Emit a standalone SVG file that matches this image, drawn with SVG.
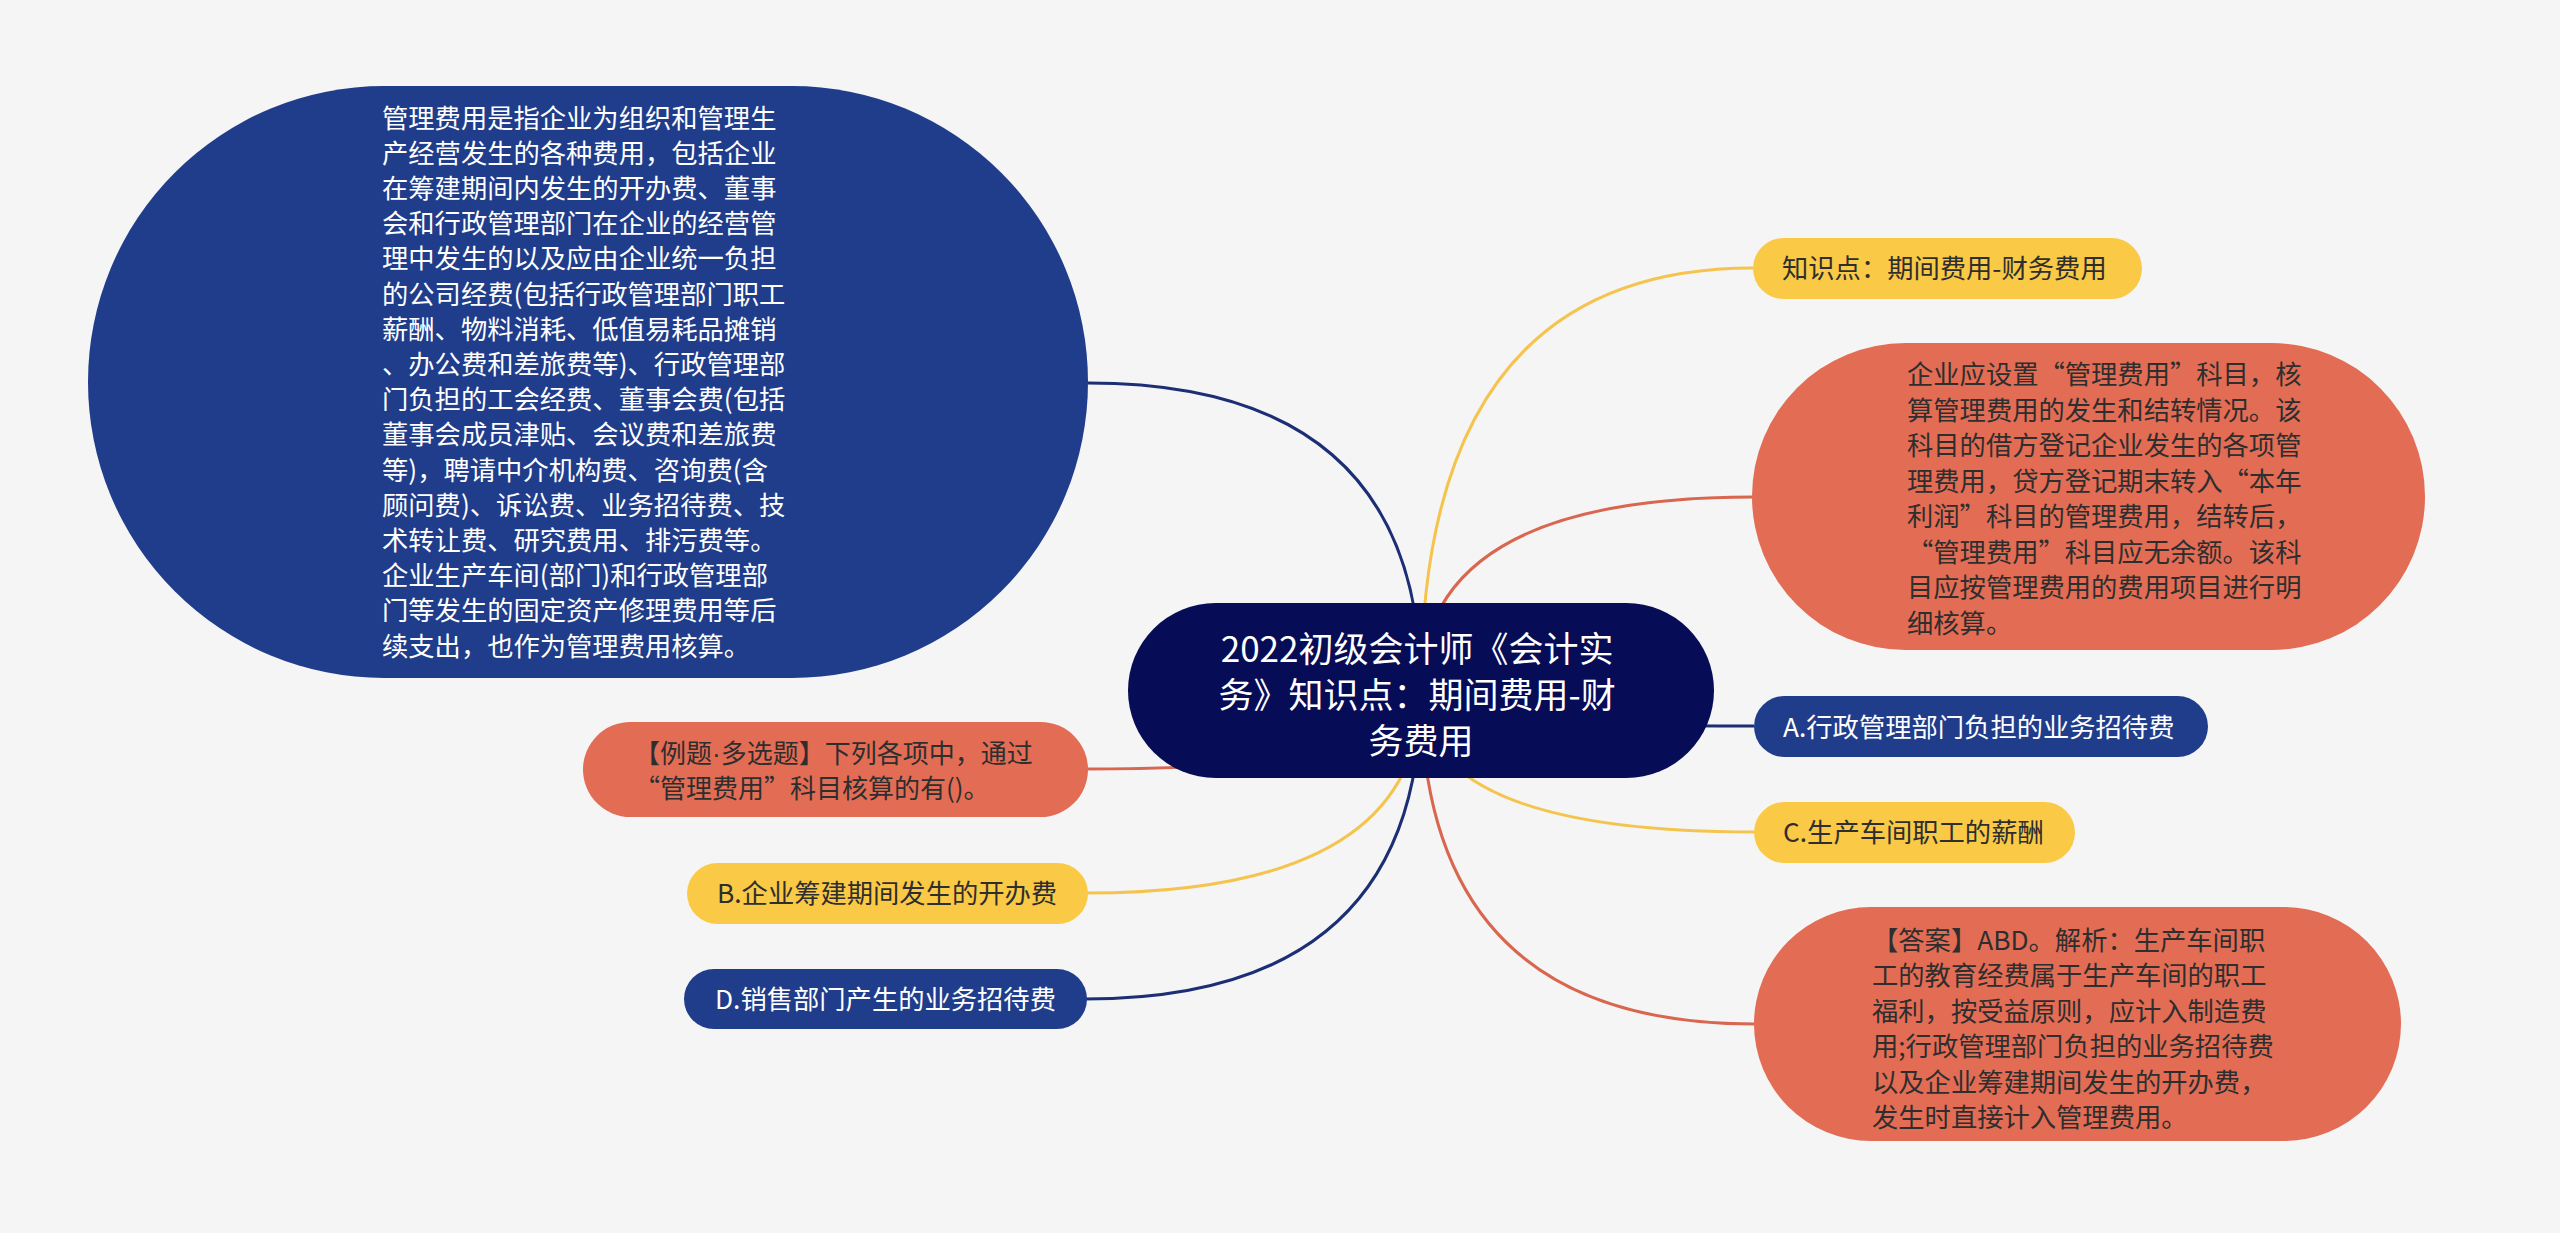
<svg xmlns="http://www.w3.org/2000/svg" width="2560" height="1233" viewBox="0 0 2560 1233">
<style>
  text { font-family: "Noto Sans CJK SC", "Liberation Sans", sans-serif; font-size: 26.3px; }
  .light { fill: #ffffff; }
  .dark { fill: #2e2e2e; }
  .navy { fill: #203d8b; }
  .yellow { fill: #fac946; }
  .coral { fill: #e36c55; }
  .root { fill: #070c57; }
  .ln { fill: none; stroke-width: 3; }
  .ln-navy { stroke: #1c2f74; }
  .ln-yellow { stroke: #f5c44e; }
  .ln-coral { stroke: #d9664f; }
  .latin { font-family: "Liberation Sans", sans-serif; }
</style>
<rect x="0" y="0" width="2560" height="1233" fill="#f5f5f5"/>

<g id="connectors">
  <path class="ln ln-navy" d="M1421,690 Q1421,383 1088,383"/>
  <path class="ln ln-coral" d="M1421,690 Q1421,769 1087,769"/>
  <path class="ln ln-yellow" d="M1421,690 Q1421,893 1087,893"/>
  <path class="ln ln-navy" d="M1421,690 Q1421,999 1085,999"/>
  <path class="ln ln-yellow" d="M1421,690 Q1421,268 1753,268"/>
  <path class="ln ln-coral" d="M1421,690 Q1421,497 1753,497"/>
  <path class="ln ln-navy" d="M1421,690 Q1421,726 1754,726"/>
  <path class="ln ln-yellow" d="M1421,690 Q1421,832 1754,832"/>
  <path class="ln ln-coral" d="M1421,690 Q1421,1024 1754,1024"/>
</g>

<g id="node-root">
  <rect class="root" x="1128" y="603" width="586" height="175" rx="87.5" ry="87.5"/>
  <text class="light" text-anchor="middle" style="font-size:35px">
    <tspan x="1421" y="662">2022初级会计师《会计实</tspan>
    <tspan x="1421" y="708">务》知识点：期间费用-财</tspan>
    <tspan x="1421" y="754">务费用</tspan>
  </text>
</g>

<g id="node-definition">
  <rect class="navy" x="88" y="86" width="1000" height="592" rx="296" ry="296"/>
  <text class="light">
    <tspan x="382" y="127.6">管理费用是指企业为组织和管理生</tspan>
    <tspan x="382" y="162.8">产经营发生的各种费用，包括企业</tspan>
    <tspan x="382" y="198">在筹建期间内发生的开办费、董事</tspan>
    <tspan x="382" y="233.2">会和行政管理部门在企业的经营管</tspan>
    <tspan x="382" y="268.4">理中发生的以及应由企业统一负担</tspan>
    <tspan x="382" y="303.6">的公司经费(包括行政管理部门职工</tspan>
    <tspan x="382" y="338.8">薪酬、物料消耗、低值易耗品摊销</tspan>
    <tspan x="382" y="374">、办公费和差旅费等)、行政管理部</tspan>
    <tspan x="382" y="409.2">门负担的工会经费、董事会费(包括</tspan>
    <tspan x="382" y="444.4">董事会成员津贴、会议费和差旅费</tspan>
    <tspan x="382" y="479.6">等)，聘请中介机构费、咨询费(含</tspan>
    <tspan x="382" y="514.8">顾问费)、诉讼费、业务招待费、技</tspan>
    <tspan x="382" y="550">术转让费、研究费用、排污费等。</tspan>
    <tspan x="382" y="585.2">企业生产车间(部门)和行政管理部</tspan>
    <tspan x="382" y="620.4">门等发生的固定资产修理费用等后</tspan>
    <tspan x="382" y="655.6">续支出，也作为管理费用核算。</tspan>
  </text>
</g>

<g id="node-question">
  <rect class="coral" x="583" y="722" width="505" height="95" rx="47.5" ry="47.5"/>
  <text class="dark" style="font-size:26px">
    <tspan x="634" y="763">【例题<tspan class="latin">·</tspan>多选题】下列各项中，通过</tspan>
    <tspan x="634" y="798">“管理费用”科目核算的有()。</tspan>
  </text>
</g>

<g id="node-b">
  <rect class="yellow" x="687" y="863" width="401" height="61" rx="30.5" ry="30.5"/>
  <text class="dark" x="717" y="903">B.企业筹建期间发生的开办费</text>
</g>

<g id="node-d">
  <rect class="navy" x="684" y="969" width="403" height="60" rx="30" ry="30"/>
  <text class="light" x="715" y="1009">D.销售部门产生的业务招待费</text>
</g>

<g id="node-topic">
  <rect class="yellow" x="1753" y="238" width="389" height="61" rx="30.5" ry="30.5"/>
  <text class="dark" x="1782" y="278">知识点：期间费用-财务费用</text>
</g>

<g id="node-account">
  <rect class="coral" x="1752" y="343" width="673" height="307" rx="153.5" ry="153.5"/>
  <text class="dark">
    <tspan x="1907" y="384">企业应设置“管理费用”科目，核</tspan>
    <tspan x="1907" y="419.5">算管理费用的发生和结转情况。该</tspan>
    <tspan x="1907" y="455">科目的借方登记企业发生的各项管</tspan>
    <tspan x="1907" y="490.5">理费用，贷方登记期末转入“本年</tspan>
    <tspan x="1907" y="526">利润”科目的管理费用，结转后，</tspan>
    <tspan x="1907" y="561.5">“管理费用”科目应无余额。该科</tspan>
    <tspan x="1907" y="597">目应按管理费用的费用项目进行明</tspan>
    <tspan x="1907" y="632.5">细核算。</tspan>
  </text>
</g>

<g id="node-a">
  <rect class="navy" x="1754" y="696" width="454" height="61" rx="30.5" ry="30.5"/>
  <text class="light" x="1783" y="737">A.行政管理部门负担的业务招待费</text>
</g>

<g id="node-c">
  <rect class="yellow" x="1754" y="802" width="321" height="61" rx="30.5" ry="30.5"/>
  <text class="dark" x="1783" y="842">C.生产车间职工的薪酬</text>
</g>

<g id="node-answer">
  <rect class="coral" x="1754" y="907" width="647" height="234" rx="117" ry="117"/>
  <text class="dark">
    <tspan x="1872" y="950">【答案】ABD。解析：生产车间职</tspan>
    <tspan x="1872" y="985.4">工的教育经费属于生产车间的职工</tspan>
    <tspan x="1872" y="1020.8">福利，按受益原则，应计入制造费</tspan>
    <tspan x="1872" y="1056.2">用;行政管理部门负担的业务招待费</tspan>
    <tspan x="1872" y="1091.6">以及企业筹建期间发生的开办费，</tspan>
    <tspan x="1872" y="1127">发生时直接计入管理费用。</tspan>
  </text>
</g>
</svg>
